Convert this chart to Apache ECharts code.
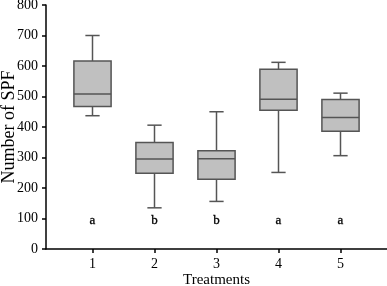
<!DOCTYPE html>
<html>
<head>
<meta charset="utf-8">
<script src="https://cdn.jsdelivr.net/npm/echarts@6/dist/echarts.min.js"></script>
<style>
  html, body { margin: 0; padding: 0; background: #fff; }
</style>
</head>
<body>
<div id="chart" style="width: 387px; height: 286px"></div>
<script>
// treatments 1..5: [min, Q1, median, Q3, max]
const treatments = [1, 2, 3, 4, 5];
const mins    = [437, 135, 156, 251, 306];
const q1s     = [467, 248, 229, 455, 386];
const medians = [508, 295, 296, 491, 431];
const q3s     = [616, 349, 322, 589, 490];
const maxs    = [700, 406, 450, 612, 511];
const letters = ['a', 'b', 'b', 'a', 'a'];
const letterY = 92;

const font = 'Liberation Serif';
const chart = echarts.init(document.getElementById('chart'));

const data = treatments.map((t, i) => [t, mins[i], q1s[i], medians[i], q3s[i], maxs[i], i]);

// draw one box with whiskers
function renderBox(params, api) {
  const x = api.value(0);
  const bw = api.size([1, 0])[0];
  const half = bw * 0.3;
  const cap = bw * 0.115;
  const pMin = api.coord([x, api.value(1)]);
  const pQ1 = api.coord([x, api.value(2)]);
  const pMed = api.coord([x, api.value(3)]);
  const pQ3 = api.coord([x, api.value(4)]);
  const pMax = api.coord([x, api.value(5)]);
  const pTxt = api.coord([x, letterY]);
  const stroke = { stroke: '#555', lineWidth: 1.5 };
  return {
    type: 'group',
    children: [
      { type: 'line', shape: { x1: pMin[0], y1: pMin[1], x2: pQ1[0], y2: pQ1[1] }, style: stroke },
      { type: 'line', shape: { x1: pQ3[0], y1: pQ3[1], x2: pMax[0], y2: pMax[1] }, style: stroke },
      { type: 'line', shape: { x1: pMin[0] - cap, y1: pMin[1], x2: pMin[0] + cap, y2: pMin[1] }, style: stroke },
      { type: 'line', shape: { x1: pMax[0] - cap, y1: pMax[1], x2: pMax[0] + cap, y2: pMax[1] }, style: stroke },
      {
        type: 'rect',
        shape: { x: pQ3[0] - half, y: pQ3[1], width: half * 2, height: pQ1[1] - pQ3[1] },
        style: { fill: '#c0c0c0', stroke: '#555', lineWidth: 1.5 }
      },
      { type: 'line', shape: { x1: pMed[0] - half, y1: pMed[1], x2: pMed[0] + half, y2: pMed[1] }, style: stroke },
      {
        type: 'text',
        style: {
          x: pTxt[0], y: pTxt[1], text: letters[api.value(6)],
          fill: '#000', font: '13px ' + font, align: 'center', verticalAlign: 'middle',
          stroke: '#000', lineWidth: 0.3
        }
      }
    ]
  };
}

const option = {
  animation: false,
  grid: { left: 46, right: 0, top: 5, bottom: 37, containLabel: false, outerBoundsMode: 'none' },
  xAxis: {
    type: 'value',
    min: 0.25,
    max: 5.75,
    name: 'Treatments',
    nameLocation: 'middle',
    nameGap: 24,
    nameMoveOverlap: false,
    nameTextStyle: { color: '#000', fontFamily: font, fontSize: 15 },
    splitLine: { show: false },
    axisLine: { show: true, onZero: false, lineStyle: { color: '#000', width: 1.5 } },
    axisTick: { show: true, customValues: treatments, length: 4, lineStyle: { color: '#000', width: 1.5 } },
    axisLabel: { customValues: treatments, color: '#000', fontFamily: font, fontSize: 14, margin: 8 }
  },
  yAxis: {
    type: 'value',
    min: 0,
    max: 800,
    interval: 100,
    name: 'Number of SPF',
    nameLocation: 'middle',
    nameGap: 28,
    nameMoveOverlap: false,
    nameTextStyle: { color: '#000', fontFamily: font, fontSize: 18 },
    splitLine: { show: false },
    axisLine: { show: true, lineStyle: { color: '#000', width: 1.5 } },
    axisTick: { show: true, length: 4, lineStyle: { color: '#000', width: 1.5 } },
    axisLabel: { color: '#000', fontFamily: font, fontSize: 14, margin: 8 }
  },
  series: [{
    type: 'custom',
    renderItem: renderBox,
    data: data,
    encode: { x: 0, y: [1, 5] }
  }]
};

chart.setOption(option);
</script>
</body>
</html>
